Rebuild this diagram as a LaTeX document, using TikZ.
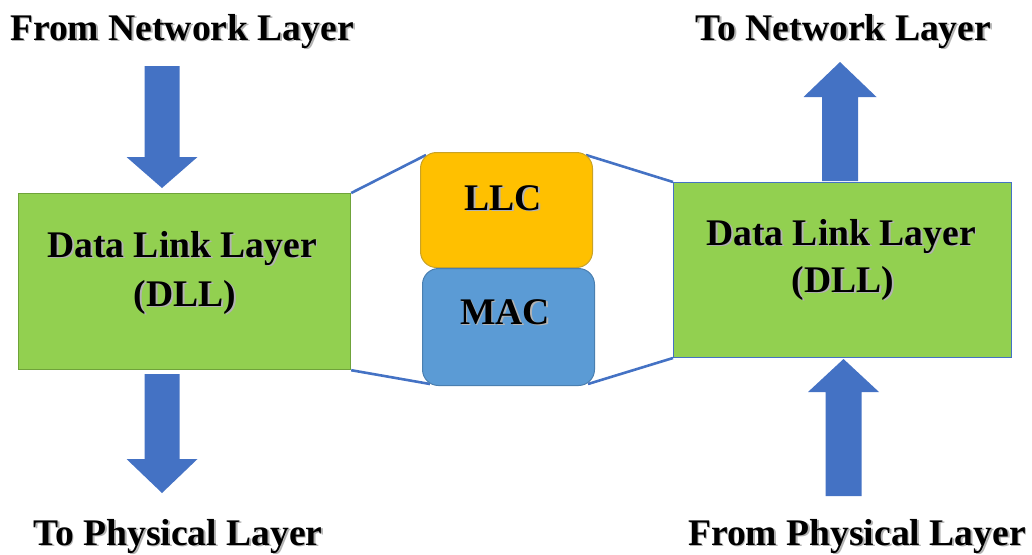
\documentclass[tikz,border=0pt]{standalone}
\usepackage{fontspec}
\setmainfont{Liberation Serif}
\usetikzlibrary{calc,backgrounds}

\definecolor{dllgreen}{HTML}{92D050}
\definecolor{dllgreenedge}{HTML}{6FA33A}
\definecolor{blockblue}{HTML}{4472C4}
\definecolor{llcgold}{HTML}{FFC000}
\definecolor{llcedge}{HTML}{C9A227}
\definecolor{macblue}{HTML}{5B9BD5}
\definecolor{macedge}{HTML}{4A7FB0}

% bold text with a soft grey drop shadow
\newcommand\shtext[1]{\leavevmode\rlap{\kern1.8pt\raisebox{-1.8pt}{\textcolor{black!30}{#1}}}#1}

% block arrow: centre x, tail y, head-base y, tip y, shaft half width, head half width
\newcommand\blockarrow[6]{%
  \fill[blockblue] (#1-#5,#2) -- (#1+#5,#2) -- (#1+#5,#3) -- (#1+#6,#3) -- (#1,#4)
    -- (#1-#6,#3) -- (#1-#5,#3) -- cycle;}

\begin{document}
\begin{tikzpicture}[x=1pt,y=-1pt,
  lbl/.style={inner sep=0pt, anchor=base, font=\fontsize{37.6}{45}\selectfont\bfseries},
  layerbox/.style={draw, line width=1.2pt, fill=dllgreen, anchor=north west, inner sep=0pt},
  sublayer/.style={draw, line width=1pt, rounded corners=16pt, anchor=north west, inner sep=0pt},
  link/.style={draw=blockblue, line width=2.6pt}]
\useasboundingbox (0,0) rectangle (1032,554);

% the two data link layer blocks
\node[layerbox, draw=dllgreenedge, minimum width=332pt, minimum height=176pt] (dllL) at (18,193) {};
\node[layerbox, draw=blockblue, line width=1pt, minimum width=338pt, minimum height=175pt] (dllR) at (673,182) {};

% LLC and MAC sublayers
\node[sublayer, draw=llcedge, fill=llcgold, minimum width=172pt, minimum height=115pt] (llc) at (420,152) {};
\node[sublayer, draw=macedge, fill=macblue, minimum width=172pt, minimum height=117pt] (mac) at (422,268) {};

% lines opening the left and right blocks onto the sublayers
\begin{scope}[on background layer]
  \draw[link] (dllL.north east) -- ($(llc.north west)+(6,3)$);
  \draw[link] (dllL.south east) -- ($(mac.south west)+(8,-2)$);
  \draw[link] ($(llc.north east)+(-7,3)$) -- (dllR.north west);
  \draw[link] ($(mac.south east)+(-7,-2)$) -- (dllR.south west);
\end{scope}

% block arrows
\blockarrow{162}{66}{157}{188}{17.5}{35.5}
\blockarrow{162}{374}{459}{493}{17.5}{35.5}
\blockarrow{840}{181}{97}{62}{18}{36.5}
\blockarrow{843.5}{496}{392}{359}{18}{35.5}

% labels
\node[lbl] (fromnet) at (182,40) {\shtext{From Network Layer}};
\node[lbl] (tonet) at (843.5,40) {\shtext{To Network Layer}};
\node[lbl] (tophy) at (178,545) {\shtext{To Physical Layer}};
\node[lbl] (fromphy) at (857,545) {\shtext{From Physical Layer}};

\node[lbl] (dllLa) at (182,257) {\shtext{Data Link Layer}};
\node[lbl] (dllLb) at (185,306) {\shtext{(DLL)}};
\node[lbl] (dllRa) at (841,245) {\shtext{Data Link Layer}};
\node[lbl] (dllRb) at (843,292) {\shtext{(DLL)}};

\node[lbl] (llct) at (503,210) {\shtext{LLC}};
\node[lbl] (mact) at (505,324) {\shtext{MAC}};
\end{tikzpicture}
\end{document}
